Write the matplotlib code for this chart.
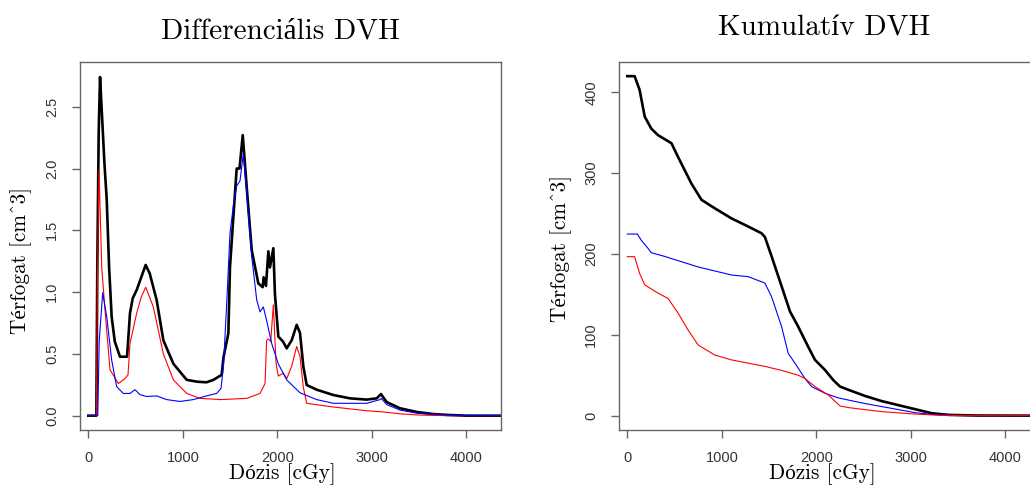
import numpy as np
import matplotlib
matplotlib.use("Agg")
from matplotlib import pyplot as plt

# differential DVH (dose in cGy, volume in cm^3)
diff_black_x = [0, 85, 95, 110, 124, 140, 170, 195, 220, 247, 280, 335, 410, 441, 470, 512, 560, 607,
                650, 723, 794, 900, 1041, 1150, 1250, 1322, 1411, 1430, 1482, 1499, 1535, 1570, 1600,
                1634, 1676, 1729, 1799, 1845, 1855, 1880, 1905, 1922, 1958, 1975, 2011, 2060, 2099,
                2152, 2205, 2240, 2275, 2311, 2417, 2593, 2770, 2946, 3052, 3097, 3157, 3298, 3475,
                3651, 3800, 4000, 4400]
diff_black_y = [0, 0, 1.2, 2.3, 2.74, 2.5, 2.05, 1.745, 1.2, 0.80, 0.6, 0.477, 0.477, 0.83, 0.95, 1.017,
                1.12, 1.22, 1.15, 0.936, 0.61, 0.42, 0.29, 0.275, 0.27, 0.289, 0.33, 0.47, 0.667, 1.2,
                1.61, 2.0, 2.0, 2.27, 1.85, 1.34, 1.07, 1.04, 1.12, 1.05, 1.33, 1.2, 1.355, 0.98, 0.64,
                0.60, 0.545, 0.61, 0.735, 0.67, 0.40, 0.248, 0.21, 0.167, 0.14, 0.13, 0.14, 0.175, 0.11,
                0.06, 0.03, 0.013, 0.006, 0.0, 0.0]

diff_red_x = [0, 85, 95, 113, 142, 177, 230, 318, 388, 420, 441, 512, 560, 607, 688, 794, 900, 1041,
              1182, 1400, 1676, 1817, 1870, 1887, 1905, 1930, 1958, 1986, 2010, 2064, 2100, 2152, 2205,
              2240, 2275, 2311, 2593, 2946, 3122, 3298, 3500, 3800, 4400]
diff_red_y = [0, 0, 1.0, 1.99, 1.2, 0.85, 0.37, 0.26, 0.30, 0.33, 0.585, 0.83, 0.96, 1.04, 0.88, 0.50,
              0.29, 0.18, 0.14, 0.13, 0.14, 0.18, 0.26, 0.61, 0.62, 0.60, 0.896, 0.43, 0.32, 0.345, 0.30,
              0.40, 0.56, 0.48, 0.23, 0.10, 0.07, 0.04, 0.03, 0.015, 0.005, 0.0, 0.0]

diff_blue_x = [0, 100, 115, 152, 195, 247, 300, 370, 441, 494, 547, 618, 723, 829, 970, 1111, 1252, 1358,
               1404, 1430, 1464, 1499, 1535, 1570, 1605, 1640, 1676, 1729, 1782, 1817, 1852, 1887, 1940,
               2010, 2099, 2240, 2417, 2593, 2946, 3087, 3100, 3157, 3298, 3475, 3650, 3900, 4400]
diff_blue_y = [0, 0, 0.6, 0.995, 0.80, 0.45, 0.235, 0.18, 0.18, 0.21, 0.17, 0.155, 0.16, 0.13, 0.115, 0.13,
               0.16, 0.18, 0.22, 0.40, 0.90, 1.475, 1.7, 1.86, 1.9, 2.12, 1.8, 1.29, 0.936, 0.84, 0.88,
               0.77, 0.585, 0.42, 0.29, 0.185, 0.13, 0.10, 0.10, 0.13, 0.14, 0.09, 0.045, 0.02, 0.01,
               0.002, 0.0]

# cumulative DVH
cum_black_x = [0, 77, 130, 184, 254, 325, 467, 537, 679, 785, 926, 1103, 1279, 1421, 1456, 1527, 1633,
               1721, 1809, 1915, 1986, 2092, 2180, 2251, 2340, 2516, 2693, 2870, 3047, 3223, 3400, 3700,
               4400]
cum_black_y = [420, 420, 403, 370, 355, 347, 337, 320, 287, 267, 256.5, 244, 234, 225.6, 221, 197, 160,
               129, 110, 85, 69, 56.5, 44, 36, 32, 24.4, 18, 13, 8, 3, 1, 0.2, 0]

cum_blue_x = [0, 106, 148, 219, 254, 396, 572, 749, 926, 1103, 1279, 1456, 1527, 1633, 1703, 1774, 1880,
              1950, 2092, 2233, 2516, 2800, 3047, 3223, 3500, 4400]
cum_blue_y = [224.7, 224.7, 217, 207, 201.6, 197, 190.5, 184, 179, 174, 172, 164, 147, 110, 77, 65, 46,
              36, 27.7, 22, 15, 9, 3.7, 1.6, 0.3, 0]

cum_red_x = [0, 77, 130, 184, 290, 431, 537, 643, 749, 926, 1103, 1279, 1456, 1633, 1809, 1880, 1986,
             2127, 2251, 2340, 2693, 3047, 3300, 3600, 4400]
cum_red_y = [196.7, 196.7, 176, 162, 154, 145, 127, 106, 87.5, 75, 69, 65, 61, 56, 50, 46, 36, 25.6, 12,
             10, 5, 2, 0.5, 0.1, 0]

x_ticks = [0, 1000, 2000, 3000, 4000]
diff_ticks = [0.0, 0.5, 1.0, 1.5, 2.0, 2.5]
cum_ticks = [0, 100, 200, 300, 400]

serif = ["cmr10", "Liberation Serif"]
sans = ["Liberation Sans", "DejaVu Sans"]
box_col = "#666666"

fig = plt.figure(figsize=(10.30, 4.86), dpi=100)
W, H = 1030.0, 486.0
ax1 = fig.add_axes([80 / W, (H - 430) / H, 421 / W, 368 / H])
ax2 = fig.add_axes([619 / W, (H - 430) / H, 421 / W, 368 / H])

ax1.plot(diff_black_x, diff_black_y, color="black", lw=1.9)
ax1.plot(diff_red_x, diff_red_y, color="red", lw=0.8)
ax1.plot(diff_blue_x, diff_blue_y, color="blue", lw=0.8)
ax1.set_xlim(-88, 4367)
ax1.set_ylim(-0.116, 2.862)
ax1.set_yticks(diff_ticks)
ax1.set_yticklabels(["%.1f" % v for v in diff_ticks])

ax2.plot(cum_black_x, cum_black_y, color="black", lw=1.9)
ax2.plot(cum_blue_x, cum_blue_y, color="blue", lw=0.8)
ax2.plot(cum_red_x, cum_red_y, color="red", lw=0.8)
ax2.set_xlim(-88, 4367)
ax2.set_ylim(-17.7, 437.5)
ax2.set_yticks(cum_ticks)

for ax in (ax1, ax2):
    ax.set_xticks(x_ticks)
    for s in ax.spines.values():
        s.set_color(box_col)
        s.set_linewidth(1.0)
    ax.tick_params(length=6, width=1.0, color=box_col, labelcolor="#333333", labelsize=10.5)
    ax.tick_params(axis="x", pad=9)
    ax.tick_params(axis="y", pad=9, labelrotation=90)
    for lab in ax.get_xticklabels() + ax.get_yticklabels():
        lab.set_family(sans)
    for lab in ax.get_yticklabels():
        lab.set_va("center")

ax1.text(0.477, 1.065, "Differenciális DVH", transform=ax1.transAxes, ha="center", va="baseline",
         fontsize=21, family=serif)
ax2.text(0.487, 1.073, "Kumulatív DVH", transform=ax2.transAxes, ha="center", va="baseline",
         fontsize=21, family=serif)
ax1.text(0.48, -0.133, "Dózis [cGy]", transform=ax1.transAxes, ha="center", va="baseline",
         fontsize=15.3, family=serif)
ax2.text(0.482, -0.133, "Dózis [cGy]", transform=ax2.transAxes, ha="center", va="baseline",
         fontsize=15.3, family=serif)
ax1.text((21 - 80) / 421, (430 - 260) / 368, "Térfogat [cm^3]", transform=ax1.transAxes, rotation=90,
         ha="center", va="center", fontsize=15.3, family=serif)
ax2.text((561 - 619) / 421, (430 - 249) / 368, "Térfogat [cm^3]", transform=ax2.transAxes, rotation=90,
         ha="center", va="center", fontsize=15.3, family=serif)

fig.savefig("out.png", dpi=100)
